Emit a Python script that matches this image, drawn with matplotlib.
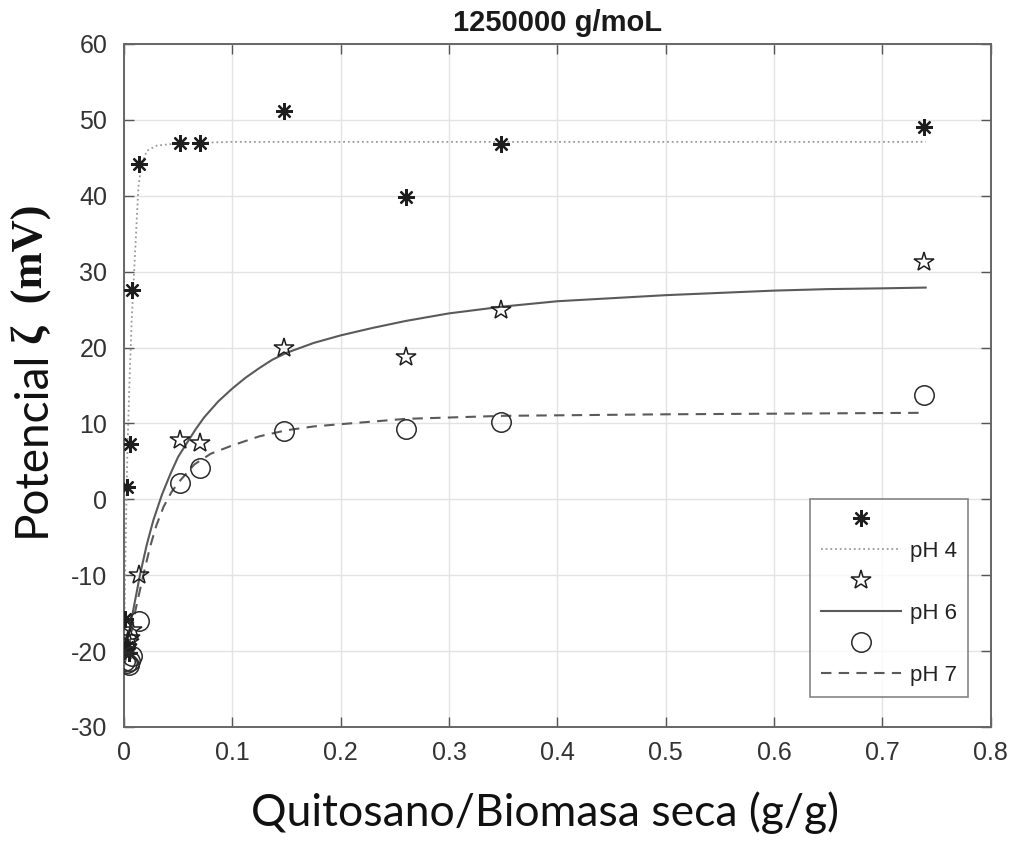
import matplotlib
matplotlib.use("Agg")
from matplotlib import pyplot as plt

# Medidas de potencial zeta (puntos) para cada pH
x_pts = [0.001, 0.0025, 0.0056, 0.0071, 0.0142, 0.052, 0.070, 0.148, 0.26, 0.348, 0.738]
ph4_pts = [-15.8, 1.6, 7.3, 27.6, 44.2, 47.0, 47.0, 51.2, 39.8, 46.8, 49.0]
x_ph4_low = [0.003, 0.005]
ph4_low = [-19.5, -20.3]
x_pts_46 = [0.001, 0.0025, 0.0045, 0.0056, 0.0071, 0.0142, 0.052, 0.070, 0.148, 0.26, 0.348, 0.738]
ph6_pts = [-20.0, -19.5, -18.8, -18.3, -17.2, -10.0, 7.8, 7.4, 20.0, 18.8, 25.0, 31.3]
ph7_pts = [-21.3, -21.6, -21.8, -21.3, -20.6, -16.0, 2.1, 4.1, 9.0, 9.2, 10.2, 13.7]

# Curvas de ajuste
fit4_x = [0, 0.001, 0.0019, 0.0031, 0.0049, 0.0071, 0.0102, 0.0133, 0.016, 0.021, 0.030, 0.049, 0.1, 0.3, 0.74]
fit4_y = [-20, -10.5, -2.8, 6.0, 14.8, 23.6, 32.4, 41.2, 44.0, 45.9, 46.6, 46.9, 47.1, 47.1, 47.1]
fit6_x = [0, 0.004, 0.008, 0.015, 0.021, 0.027, 0.035, 0.043, 0.050, 0.058, 0.066, 0.074, 0.087, 0.1, 0.112,
          0.125, 0.137, 0.15, 0.175, 0.2, 0.23, 0.26, 0.30, 0.35, 0.4, 0.45, 0.5, 0.55, 0.6, 0.65, 0.7, 0.74]
fit6_y = [-21, -18, -15, -9.8, -6.0, -2.8, 0.6, 3.4, 5.6, 7.4, 9.2, 10.8, 12.9, 14.6, 16.0,
          17.3, 18.4, 19.3, 20.6, 21.6, 22.6, 23.5, 24.5, 25.4, 26.1, 26.5, 26.9, 27.2, 27.5, 27.7, 27.8, 27.9]
fit7_x = [0, 0.005, 0.010, 0.017, 0.024, 0.030, 0.0365, 0.044, 0.052, 0.065, 0.080, 0.1, 0.125, 0.15,
          0.175, 0.2, 0.26, 0.35, 0.5, 0.74]
fit7_y = [-22, -19, -15, -10.5, -6.3, -3.4, -1.0, 1.0, 2.5, 4.6, 6.0, 7.1, 8.3, 9.1,
          9.6, 9.9, 10.6, 11.0, 11.2, 11.4]

x_ticks = [0, 0.1, 0.2, 0.3, 0.4, 0.5, 0.6, 0.7, 0.8]
x_tick_labels = ['0', '0.1', '0.2', '0.3', '0.4', '0.5', '0.6', '0.7', '0.8']
y_ticks = [-30, -20, -10, 0, 10, 20, 30, 40, 50, 60]

plt.rcParams['font.family'] = ['Liberation Sans', 'DejaVu Sans']
plt.rcParams['axes.unicode_minus'] = False

fig = plt.figure(figsize=(10.13, 8.41), dpi=100)
ax = fig.add_axes([0.1224, 0.1356, 0.8556, 0.8121])

ax.grid(True, color='#e3e3e3', linewidth=1.0, zorder=0)
ax.set_axisbelow(True)

l4, = ax.plot(fit4_x, fit4_y, linestyle=(0, (1, 1.6)), color='#9a9a9a', linewidth=1.3, zorder=2)
l6, = ax.plot(fit6_x, fit6_y, linestyle='-', color='#5a5a5a', linewidth=1.5, zorder=2)
l7, = ax.plot(fit7_x, fit7_y, linestyle=(0, (5, 3.5)), color='#5a5a5a', linewidth=1.5, zorder=2)

ast = (8, 2, 0)
m4, = ax.plot(x_pts + x_ph4_low, ph4_pts + ph4_low, linestyle='none', marker=ast, markersize=12,
              markeredgewidth=1.6, color='#1e1e1e', zorder=3)
m6, = ax.plot(x_pts_46, ph6_pts, linestyle='none', marker='*', markersize=15, markerfacecolor='none',
              markeredgewidth=1.1, markeredgecolor='#1e1e1e', zorder=3)
m7, = ax.plot(x_pts_46, ph7_pts, linestyle='none', marker='o', markersize=14, markerfacecolor='none',
              markeredgewidth=1.1, markeredgecolor='#2a2a2a', zorder=3)

ax.set_xlim(0, 0.8)
ax.set_ylim(-30, 60)
ax.set_xticks(x_ticks)
ax.set_xticklabels(x_tick_labels)
ax.set_yticks(y_ticks)
ax.tick_params(direction='in', length=7, width=1.0, color='#555555', labelcolor='#333333',
               labelsize=18, top=True, right=True)
ax.tick_params(axis='y', pad=12)
ax.tick_params(axis='x', pad=10)
for s in ax.spines.values():
    s.set_color('#666666')
    s.set_linewidth(1.4)

ax.set_title('1250000 g/moL', fontsize=21, fontweight='bold', color='#1a1a1a', pad=9)

leg = ax.legend([m4, l4, m6, l6, m7, l7], ['', 'pH 4', '', 'pH 6', '', 'pH 7'],
                loc='lower right', bbox_to_anchor=(0.9735, 0.044), fontsize=16, frameon=True,
                fancybox=False, handlelength=3.6, handletextpad=0.4, labelspacing=0.45,
                borderpad=0.5, borderaxespad=0, edgecolor='#666666')
leg.get_frame().set_linewidth(1.2)
for t in leg.get_texts():
    t.set_color('#222222')

fig.text(0.538, 0.034, 'Quitosano/Biomasa seca (g/g)', ha='center', va='center',
         fontsize=32, family=['Lato', 'DejaVu Sans'], color='#111111')
ylab = fig.text(0.031, 0.361, 'Potencial', rotation=90, ha='center', va='bottom',
                fontsize=33, family=['Lato', 'DejaVu Sans'], color='#111111')

# la parte en negrita serif va justo encima de "Potencial"
fig.canvas.draw()
bb = ylab.get_window_extent().transformed(fig.transFigure.inverted())
fig.text(0.031, bb.y1 + 0.008, 'ζ  (mV)', rotation=90, ha='center', va='bottom',
         fontsize=32, fontweight='bold', family=['Liberation Serif', 'DejaVu Serif'], color='#111111')

fig.savefig('out.png', dpi=100)
